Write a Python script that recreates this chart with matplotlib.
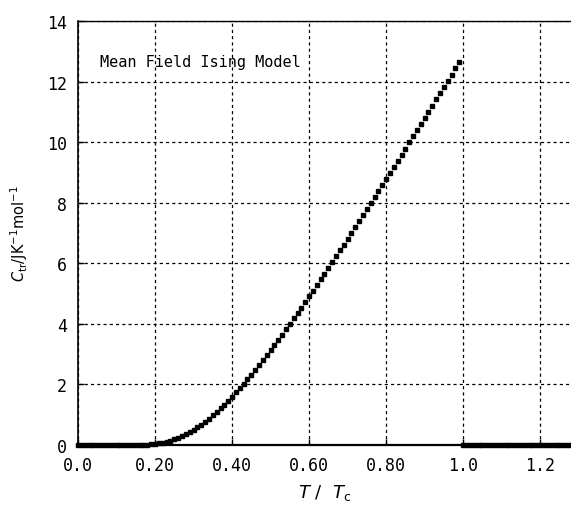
import numpy as np
import matplotlib
matplotlib.use("Agg")
import matplotlib.pyplot as plt

# heat capacity, T/Tc in steps of 0.01
t_low = [round(0.01 * i, 2) for i in range(0, 18)]
c_low = [0.0] * len(t_low)

t_mid = [0.18, 0.19, 0.20, 0.21, 0.22, 0.23, 0.24, 0.25, 0.26, 0.27,
         0.28, 0.29, 0.30, 0.31, 0.32, 0.33, 0.34, 0.35, 0.36, 0.37,
         0.38, 0.39, 0.40, 0.41, 0.42, 0.43, 0.44, 0.45, 0.46, 0.47,
         0.48, 0.49, 0.50, 0.51, 0.52, 0.53, 0.54, 0.55, 0.56, 0.57,
         0.58, 0.59, 0.60, 0.61, 0.62, 0.63, 0.64, 0.65, 0.66, 0.67,
         0.68, 0.69, 0.70, 0.71, 0.72, 0.73, 0.74, 0.75, 0.76, 0.77,
         0.78, 0.79, 0.80, 0.81, 0.82, 0.83, 0.84, 0.85, 0.86, 0.87,
         0.88, 0.89, 0.90, 0.91, 0.92, 0.93, 0.94, 0.95, 0.96, 0.97,
         0.98, 0.99]
c_mid = [0.016, 0.025, 0.039, 0.057, 0.080, 0.108, 0.143, 0.185, 0.232, 0.287,
         0.348, 0.416, 0.496, 0.579, 0.669, 0.765, 0.867, 0.976, 1.090, 1.209,
         1.333, 1.462, 1.597, 1.735, 1.877, 2.023, 2.173, 2.326, 2.482, 2.641,
         2.803, 2.967, 3.134, 3.303, 3.474, 3.647, 3.822, 4.000, 4.178, 4.358,
         4.539, 4.722, 4.906, 5.091, 5.278, 5.466, 5.655, 5.846, 6.037, 6.229,
         6.422, 6.615, 6.808, 7.003, 7.199, 7.396, 7.593, 7.791, 7.989, 8.187,
         8.385, 8.584, 8.783, 8.983, 9.183, 9.384, 9.585, 9.786, 9.988, 10.191,
         10.394, 10.597, 10.801, 11.005, 11.209, 11.413, 11.617, 11.820, 12.025, 12.230,
         12.435, 12.640]

t_high = [round(1.0 + 0.01 * i, 2) for i in range(0, 31)]
c_high = [0.0] * len(t_high)

xticks = [0.0, 0.2, 0.4, 0.6, 0.8, 1.0, 1.2]
xticklabels = ["0.0", "0.20", "0.40", "0.60", "0.80", "1.0", "1.2"]
yticks = [0, 2, 4, 6, 8, 10, 12, 14]

T = t_low + t_mid + t_high
C = c_low + c_mid + c_high

fig = plt.figure(figsize=(5.71, 5.10), dpi=100)
ax = fig.add_axes([0.1366, 0.1255, 0.8634, 0.8314])

ax.plot(T, C, linestyle="none", marker="s", markersize=3.0,
        color="black", clip_on=False, zorder=3)

ax.set_xlim(0, 1.28)
ax.set_ylim(0, 14)
ax.set_xticks(xticks)
ax.set_xticklabels(xticklabels)
ax.set_yticks(yticks)

ax.grid(True, color="black", linestyle=(0, (2.5, 2.5)), linewidth=0.9)
ax.tick_params(direction="in", length=4, width=1, colors="black",
               top=False, right=False, pad=8)
for lab in ax.get_xticklabels() + ax.get_yticklabels():
    lab.set_family("DejaVu Sans Mono")
    lab.set_fontsize(12)

ax.spines["right"].set_visible(False)
ax.spines["left"].set_linewidth(1.2)
ax.spines["bottom"].set_linewidth(1.6)
ax.spines["top"].set_linewidth(1.0)

ax.text(0.045, 0.905, "Mean Field Ising Model", transform=ax.transAxes,
        family="DejaVu Sans Mono", fontsize=11, va="center", ha="left")

ax.set_xlabel(r"$T$ /  $T_{\mathrm{c}}$", fontsize=13, labelpad=6)
ax.set_ylabel(r"$C_{\mathrm{tr}}$/JK$^{-1}$mol$^{-1}$", fontsize=10.5, labelpad=12)

fig.savefig("out.png", dpi=100)
